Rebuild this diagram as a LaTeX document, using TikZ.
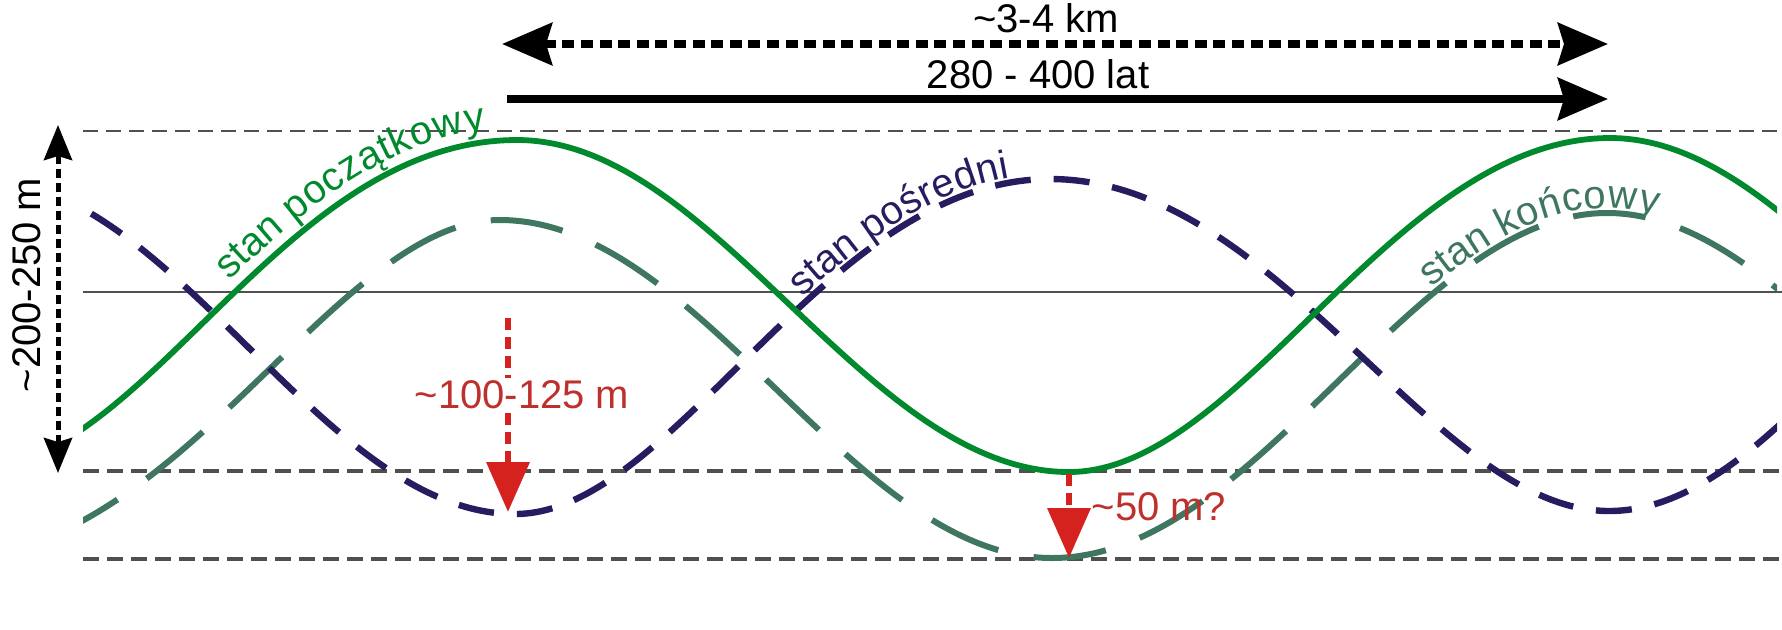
\documentclass[tikz,border=0pt]{standalone}
\usepackage{fontspec}
\setmainfont{Liberation Sans}
\usetikzlibrary{arrows.meta,decorations.text}
\definecolor{cgreen}{RGB}{0,137,45}
\definecolor{cnavy}{RGB}{38,28,96}
\definecolor{cteal}{RGB}{62,118,96}
\definecolor{cred}{RGB}{214,34,30}
\definecolor{credtext}{RGB}{190,48,44}
\definecolor{cgrid}{RGB}{80,80,80}
\newcommand{\lblsize}{\fontsize{20pt}{24pt}\selectfont}
\begin{document}
\begin{tikzpicture}[x=0.5pt,y=-0.5pt,
  refdash/.style={cgrid, line width=1pt, dash pattern=on 7.5pt off 4pt},
  refdashb/.style={cgrid, line width=1.6pt, dash pattern=on 8pt off 4pt},
  refsolid/.style={cgrid, line width=1.2pt},
  greencurve/.style={cgreen, line width=2.9pt},
  navycurve/.style={cnavy, line width=3.2pt, dash pattern=on 18pt off 11.5pt},
  tealcurve/.style={cteal, line width=3pt, dash pattern=on 36.5pt off 18pt},
  lbl/.style={font=\lblsize, inner sep=0pt},
  bigtip/.style={line width=4pt, {Stealth[length=25pt,width=21pt,inset=3pt]}-{Stealth[length=25pt,width=21pt,inset=3pt]}},
  bigtipR/.style={line width=4pt, -{Stealth[length=25pt,width=21pt,inset=3pt]}},
  vtip/.style={line width=2.5pt, dash pattern=on 4.5pt off 2.5pt, {Stealth[length=17.5pt,width=14pt,inset=2pt]}-{Stealth[length=17.5pt,width=14pt,inset=2pt]}},
  redarrow/.style={cred, line width=3.4pt, dash pattern=on 6pt off 3.5pt, -{Triangle[length=25pt,width=21pt]}}
]
\useasboundingbox (0,0) rectangle (1782,629);

% reference levels
\coordinate (topL) at (83,131);  \coordinate (topR) at (1782,131);
\coordinate (midL) at (83,292);  \coordinate (midR) at (1782,292);
\coordinate (lowL) at (83,471);  \coordinate (lowR) at (1782,471);
\coordinate (botL) at (83,559);  \coordinate (botR) at (1782,559);
\draw[refdash]  (topL) -- (topR);
\draw[refsolid] (midL) -- (midR);
\draw[refdashb] (lowL) -- (lowR);
\draw[refdashb] (botL) -- (botR);

\begin{scope}
\clip (83,0) rectangle (1777,629);
% stan koncowy (teal dashed)
\draw[tealcurve] (-52,558) .. controls (179.8,558) and (334.4,220) .. (500,220)
  .. controls (700.4,220) and (851.6,558) .. (1052,558)
  .. controls (1257.4,558) and (1412.75,213) .. (1607,213)
  .. controls (1805,213) and (1959,558) .. (2157,558);
% stan posredni (navy dashed)
\draw[navycurve] (-20,179) .. controls (174.2,179) and (320.8,514) .. (515,514)
  .. controls (675.5,514) and (825.3,179) .. (1050,179)
  .. controls (1279.2,179) and (1432.9,511) .. (1609,511)
  .. controls (1790.9,511) and (1928.1,179) .. (2110,179);
% stan poczatkowy (green solid)
\draw[greencurve] (-35,472) .. controls (147.2,472) and (279.6,140) .. (517,140)
  .. controls (715.7,140) and (864.8,472) .. (1069,472)
  .. controls (1242.1,472) and (1393.6,138) .. (1610,138)
  .. controls (1806.2,138) and (1958.8,472) .. (2155,472);
\end{scope}

% curve labels
\path[decorate, decoration={text along path, text={|\lblsize|stan początkowy}, text color=cgreen, text align={left, left indent=12pt}, raise=6pt}]
  (220.3,306) .. controls (305.85,223) and (398.3,140) .. (517,140)
  .. controls (715.7,140) and (864.8,472) .. (1069,472);
\path[decorate, decoration={text along path, text={|\lblsize|stan pośredni}, text color=cnavy, text align={left, left indent=33pt}, raise=2.5pt}]
  (758.4,346.5) .. controls (844,262.75) and (937.65,179) .. (1050,179)
  .. controls (1279.2,179) and (1432.9,511) .. (1609,511);
\path[decorate, decoration={text along path, text={|\lblsize|stan końcowy}, text color=cteal, text align={left, left indent=69pt}, raise=2.5pt}]
  (1333.7,385.5) .. controls (1422.5,299.25) and (1509.9,213) .. (1607,213)
  .. controls (1805,213) and (1959,558) .. (2157,558);

% top arrows
\coordinate (kmL) at (502,44);  \coordinate (kmR) at (1608,44);
\coordinate (latL) at (507,99); \coordinate (latR) at (1608,99);
\draw[bigtip, dash pattern=on 6pt off 3.3pt] (kmL) -- (kmR);
\draw[bigtipR] (latL) -- (latR);
\node[lbl, anchor=base] (km) at (1046,32) {\textasciitilde3-4 km};
\node[lbl, anchor=base] (lat) at (1038,88) {280 - 400 lat};

% vertical arrow
\coordinate (vT) at (58,125); \coordinate (vB) at (58,473);
\draw[vtip] (vT) -- (vB);
\node[lbl, anchor=base, rotate=90] (vert) at (40,285) {\textasciitilde200-250 m};

% red arrows
\coordinate (r1s) at (508,318); \coordinate (r1e) at (508,512);
\coordinate (r2s) at (1069,474); \coordinate (r2e) at (1069,558);
\draw[redarrow] (r1s) -- (r1e);
\draw[redarrow] (r2s) -- (r2e);
\node[lbl, anchor=base, text=credtext, fill=white, inner sep=1pt] (r1t) at (522,408) {\textasciitilde100-125 m};
\node[lbl, anchor=base, text=credtext] (r2t) at (1159,520) {\textasciitilde50 m?};
\end{tikzpicture}
\end{document}
